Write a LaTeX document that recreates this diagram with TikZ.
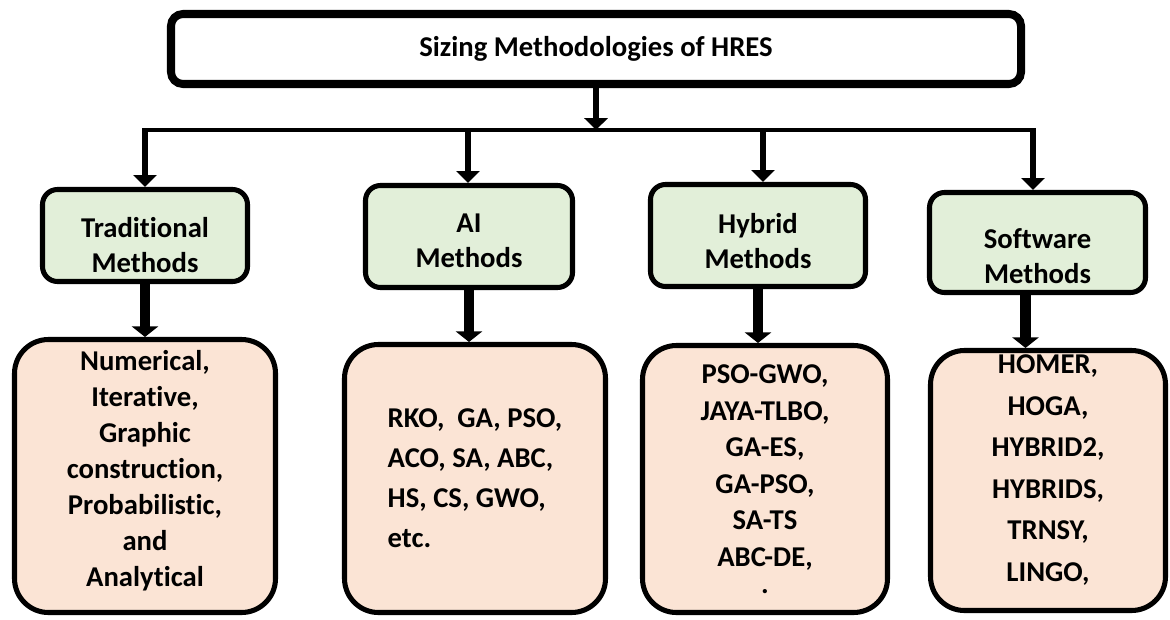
\documentclass[tikz,border=0pt]{standalone}
\usepackage{fontspec}
\setmainfont{Carlito}[Ligatures=NoCommon]
\usepackage{xcolor}
\usetikzlibrary{arrows.meta}
\definecolor{greenfill}{HTML}{E2EFD9}
\definecolor{peachfill}{HTML}{FBE4D5}

\begin{document}
\begin{tikzpicture}
   [
   titlebox/.style={rectangle, rounded corners=0.3cm, draw=black, line width=5.7pt, fill=white, minimum width=21.25cm, minimum height=1.75cm, font=\bfseries\fontsize{20.4}{24}\selectfont},
   classbox/.style={rectangle, rounded corners=0.375cm, draw=black, line width=3.6pt, fill=greenfill, align=center, inner sep=0pt, font=\bfseries\fontsize{20.4}{24.9}\selectfont},
   listbox/.style={rectangle, rounded corners=0.85cm, draw=black, line width=3.6pt, fill=peachfill, align=center, inner sep=0pt, font=\bfseries\fontsize{20.4}{25.6}\selectfont},
   busline/.style={line width=2.8pt},
   droparrow/.style={line width=4.3pt, -{Triangle[width=16.5pt,length=8.5pt]}},
   fatarrow/.style={line width=7.8pt, -{Triangle[width=18.5pt,length=7.5pt]}},
   ]
 \useasboundingbox (0,0) rectangle (29.25,-15.475);
 \node at (14.9,-1.225) [titlebox] (title) {Sizing Methodologies of HRES};
 % branch line under the title
 \coordinate (b1) at (3.625,-3.25);
 \coordinate (b2) at (11.7,-3.25);
 \coordinate (b3) at (19.075,-3.25);
 \coordinate (b4) at (25.825,-3.25);
 \node at (3.625,-5.8875) [classbox, minimum width=5.125cm, minimum height=2.3cm, text height=53pt] (trad) {Traditional\\Methods};
 \node at (11.725,-5.9125) [classbox, minimum width=5.175cm, minimum height=2.55cm, text height=43.7pt] (ai) {AI\\Methods};
 \node at (18.95,-5.8875) [classbox, minimum width=5.375cm, minimum height=2.55cm, text height=47.8pt] (hyb) {Hybrid\\Methods};
 \node at (25.9375,-6.0625) [classbox, minimum width=5.4cm, minimum height=2.5cm, text height=59pt] (soft) {Software\\Methods};
 \node at (3.625,-11.9) [listbox, minimum width=6.525cm, minimum height=6.825cm, text depth=11pt] (tradlist) {Numerical,\\Iterative,\\Graphic\\construction,\\Probabilistic,\\and\\Analytical};
 \node at (11.875,-11.9625) [listbox, align=left, minimum width=6.525cm, minimum height=6.7cm, font=\bfseries\fontsize{20.4}{28.5}\selectfont] (ailist) {RKO,\ \ GA, PSO,\\ACO, SA, ABC,\\HS, CS, GWO,\\etc.};
 \node at (19.125,-11.975) [listbox, minimum width=6.125cm, minimum height=6.675cm, font=\bfseries\fontsize{20.4}{26}\selectfont] (hyblist) {PSO-GWO,\\JAYA-TLBO,\\GA-ES,\\GA-PSO,\\SA-TS\\ABC-DE,\\[-7pt].};
 \node at (26.2,-12.0125) [listbox, minimum width=5.875cm, minimum height=6.5cm, text depth=17.5pt, font=\bfseries\fontsize{20.4}{29.5}\selectfont] (softlist) {HOMER,\\HOGA,\\HYBRID2,\\HYBRIDS,\\TRNSY,\\LINGO,};
 \draw[droparrow] (title.south) -- (title.south |- b1);
 \draw[busline] (b1) -- (b4);
 \draw[droparrow] ([yshift=1.4pt]b1) -- (b1 |- trad.north);
 \draw[droparrow] ([yshift=1.4pt]b2) -- (b2 |- ai.north);
 \draw[droparrow] ([yshift=1.4pt]b3) -- (b3 |- hyb.north);
 \draw[droparrow] ([yshift=1.4pt]b4) -- (b4 |- soft.north);
 \draw[fatarrow] (trad.south) -- (trad.south |- tradlist.north);
 \draw[fatarrow] (ai.south) -- (ai.south |- ailist.north);
 \draw[fatarrow] (hyb.south) -- (hyb.south |- hyblist.north);
 \draw[fatarrow] ([xshift=-0.3cm]soft.south) -- ([xshift=-0.3cm]soft.south |- softlist.north);
\end{tikzpicture}
\end{document}
